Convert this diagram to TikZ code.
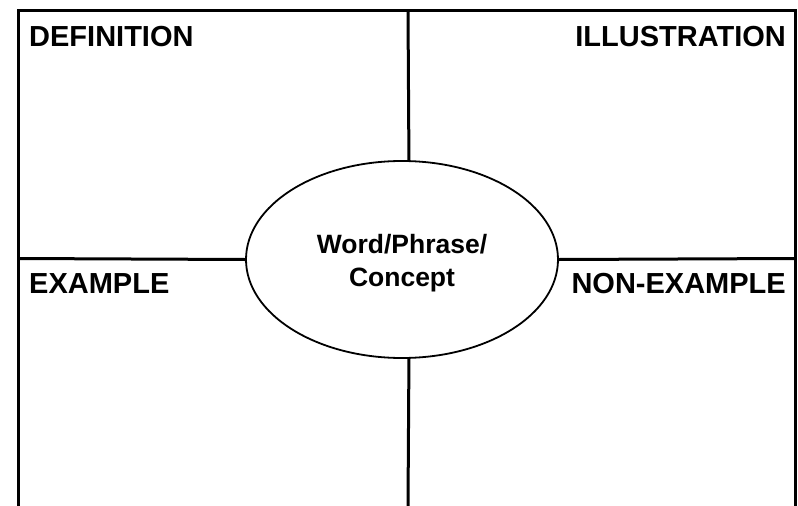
\documentclass[tikz,border=0pt]{standalone}
\usepackage{fontspec}
\setmainfont{Liberation Sans}
\usetikzlibrary{shapes.geometric}

\begin{document}
\begin{tikzpicture}[x=1pt, y=-1pt, every node/.style={font=\bfseries\fontsize{29}{34}\selectfont}]
    \useasboundingbox (0,0) rectangle (798,506);

    % Centre concept
    \node[draw, ellipse, line width=1.8pt, minimum width=312pt, minimum height=197pt, inner sep=0pt] (concept) at (402,259.5) {};
    \node[align=center, font=\bfseries\fontsize{26.5}{33}\selectfont] (term) at (402,263) {Word/Phrase/\\Concept};

    % Frame
    \coordinate (tl) at (18.5,10.5);
    \coordinate (tr) at (795.5,10.5);
    \coordinate (bl) at (18.5,506);
    \coordinate (br) at (795.5,506);
    \coordinate (top) at (408,10.5);
    \coordinate (bottom) at (408,506);
    \coordinate (left) at (18.5,258.5);
    \coordinate (right) at (795.5,258.5);
    \draw[line width=3pt] (bl) -- (tl) -- (tr) -- (br);

    % Dividers
    \draw[line width=3pt] (top) -- (concept.86);
    \draw[line width=3pt] (concept.274) -- (bottom);
    \draw[line width=3pt] (left) -- (concept.west);
    \draw[line width=3pt] (concept.east) -- (right);

    % Labels
    \node[anchor=west, inner sep=0pt] (definition) at (29,37) {DEFINITION};
    \node[anchor=east, inner sep=0pt] (illustration) at (786,37) {ILLUSTRATION};
    \node[anchor=west, inner sep=0pt] (example) at (29,284) {EXAMPLE};
    \node[anchor=east, inner sep=0pt] (nonexample) at (786,284) {NON-EXAMPLE};
\end{tikzpicture}
\end{document}
